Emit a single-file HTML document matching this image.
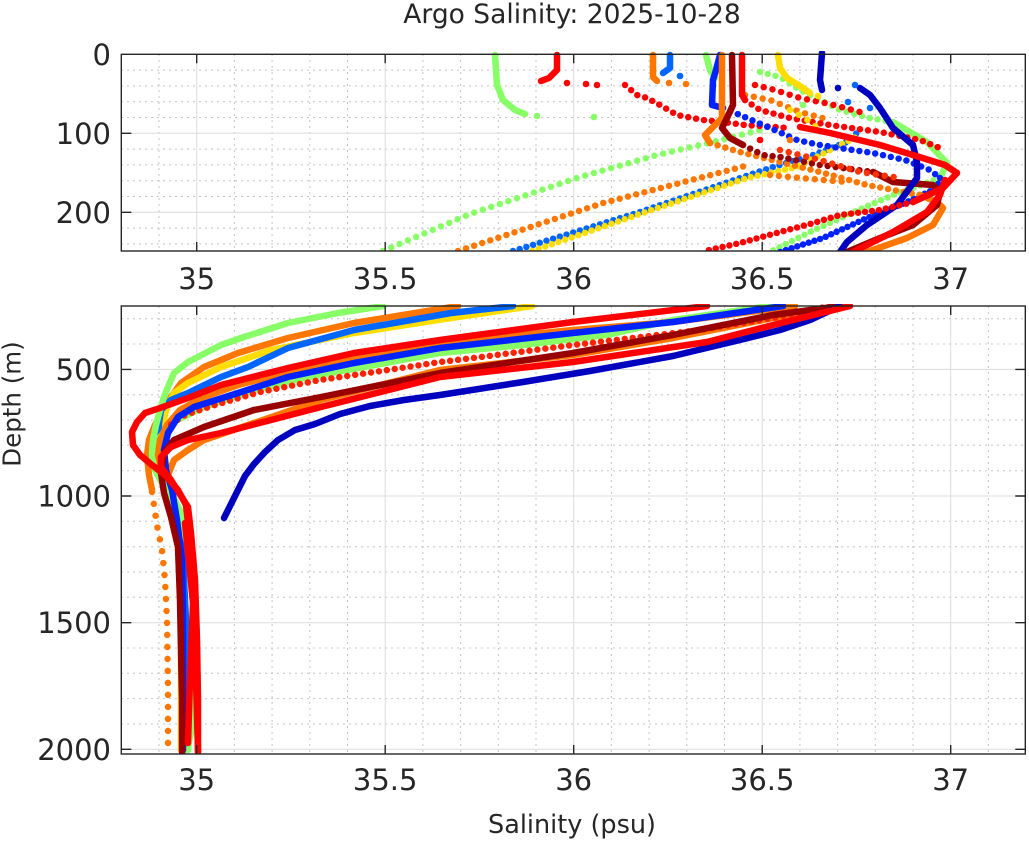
<!DOCTYPE html>
<html><head><meta charset="utf-8"><style>
html,body{margin:0;padding:0;background:#fff;}
svg{display:block;}
text{font-family:"DejaVu Sans","Liberation Sans",sans-serif;fill:#262626;}
</style></head><body>
<svg width="1029" height="841" viewBox="0 0 1029 841" xmlns="http://www.w3.org/2000/svg">
<defs>
<clipPath id="ct"><rect x="121" y="51" width="904" height="200"/></clipPath>
<clipPath id="cb"><rect x="121" y="304" width="904" height="450"/></clipPath>
</defs>
<rect width="1029" height="841" fill="#fff"/>

<!-- ===== TOP PANEL GRID ===== -->
<g stroke="#c4c4c4" stroke-width="1" stroke-dasharray="2 4">
<path d="M159,54V251M234.4,54V251M272.1,54V251M309.8,54V251M347.5,54V251M422.9,54V251M460.6,54V251M498.3,54V251M536,54V251M611.4,54V251M649.1,54V251M686.8,54V251M724.5,54V251M799.9,54V251M837.6,54V251M875.3,54V251M913,54V251M988.4,54V251"/>
<path d="M121,70.1H1025M121,85.9H1025M121,101.7H1025M121,117.5H1025M121,149.1H1025M121,164.9H1025M121,180.7H1025M121,196.5H1025M121,228.1H1025M121,243.9H1025"/>
</g>
<g stroke="#dcdcdc" stroke-width="1">
<path d="M196.7,54V251M385.2,54V251M573.7,54V251M762.2,54V251M950.7,54V251M121,133.3H1025M121,212.3H1025"/>
</g>

<!-- ===== BOTTOM PANEL GRID ===== -->
<g stroke="#c4c4c4" stroke-width="1" stroke-dasharray="2 4">
<path d="M159,306V754M234.4,306V754M272.1,306V754M309.8,306V754M347.5,306V754M422.9,306V754M460.6,306V754M498.3,306V754M536,306V754M611.4,306V754M649.1,306V754M686.8,306V754M724.5,306V754M799.9,306V754M837.6,306V754M875.3,306V754M913,306V754M988.4,306V754"/>
<path d="M121,318.7H1025M121,344H1025M121,394.7H1025M121,420H1025M121,445.3H1025M121,470.7H1025M121,521.3H1025M121,546.7H1025M121,572H1025M121,597.3H1025M121,648H1025M121,673.3H1025M121,698.6H1025M121,724H1025"/>
</g>
<g stroke="#dcdcdc" stroke-width="1">
<path d="M196.7,306V754M385.2,306V754M573.7,306V754M762.2,306V754M950.7,306V754M121,369.4H1025M121,496H1025M121,622.7H1025M121,749.3H1025"/>
</g>

<!-- ===== TOP PANEL DATA ===== -->
<g clip-path="url(#ct)" fill="none" stroke-linecap="round" stroke-linejoin="round" stroke-width="6.5">
<polyline stroke="#88ff66" stroke-dasharray="0 9" points="383,251 470,214 580,177 657,155 713,142 760,130"/>
<polyline stroke="#ff7700" stroke-dasharray="0 8.5" points="458,251 603,203 730,170 745,166"/>
<polyline stroke="#0066ff" stroke-dasharray="0 7" points="513,251 637,213 770,168 813,155 847,142 860,130"/>
<polyline stroke="#ffdd00" stroke-dasharray="0 7" points="532,251 637,215 747,178 797,167 840,145 860,135"/>

<polyline stroke="#88ff66" points="495,55 497,85 503,100 515,110 525,114"/>
<polyline stroke="#ff0000" points="557,55 557,70 549,78 541,81"/>
<polyline stroke="#ff0000" stroke-dasharray="0 8" points="625,85 637,95 647,98 660,105 677,115 703,120 723,122 745,125 790,128"/>
<polyline stroke="#ff7700" points="653,55 653,77 657,81"/>
<polyline stroke="#0066ff" points="670,55 670,68 663,73"/>

<polyline stroke="#88ff66" points="706,55 710,70 715,78"/>
<polyline stroke="#88ff66" stroke-dasharray="0 8" points="760,72 780,77 800,90 840,110 870,118 893,122"/>
<polyline stroke="#88ff66" points="893,122 927,142 947,163 940,178"/>
<polyline stroke="#88ff66" stroke-dasharray="0 7" points="940,178 893,195 847,215 810,232 770,252"/>

<polyline stroke="#0022ff" points="720,55 716,70 713,80 712,105 723,108"/>
<polyline stroke="#0022ff" stroke-dasharray="0 8" points="723,108 740,115 770,128 797,140 820,145 853,150 873,153 905,160 930,170 940,178"/>
<polyline stroke="#0022ff" stroke-dasharray="0 6" points="940,178 937,188 907,202 867,218 823,238 780,252"/>

<polyline stroke="#ff7700" points="722,55 722,118 713,127 705,135 710,143"/>
<polyline stroke="#ff7700" stroke-dasharray="0 8" points="710,143 740,152 780,162 820,172 867,185 920,195"/>
<polyline stroke="#ff7700" points="920,195 937,202 943,208 933,225 907,238 867,252"/>
<polyline stroke="#ff7700" stroke-dasharray="0 9" points="745,95 770,100 800,112 830,120"/>
<polyline stroke="#ff7700" stroke-dasharray="0 9" points="770,175 800,178 847,182"/>

<polyline stroke="#990000" points="732,55 733,105 727,118 722,128 730,138 743,145"/>
<polyline stroke="#990000" stroke-dasharray="0 8" points="743,145 763,155 780,157 820,165 873,172"/>
<polyline stroke="#990000" points="873,172 893,182 933,185 940,192 937,205 913,225 880,238 847,252"/>

<polyline stroke="#ff0000" points="742,55 742,95 745,100"/>
<polyline stroke="#ff0000" stroke-dasharray="0 8" points="745,100 760,110 790,118 830,125 880,132 920,140 945,150"/>
<polyline stroke="#ff0000" stroke-dasharray="0 9" points="755,85 775,90 800,98 830,104 860,112"/>

<polyline stroke="#ffdd00" points="778,55 780,68 787,78 803,88 810,93"/>
<polyline stroke="#ffdd00" stroke-dasharray="0 10" points="790,110 805,118 820,130"/>

<polyline stroke="#0000bf" points="822,53 820,80 822,90"/>
<polyline stroke="#0000bf" points="860,88 870,95 880,108 893,128 913,145 917,162 917,178 897,205 867,225 847,242 840,252"/>

<polyline stroke="#ff0000" points="800,127 830,133 880,145 913,155 945,165 957,173 943,188 913,202"/>
<polyline stroke="#ff0000" stroke-dasharray="0 7" points="913,202 880,210 840,215 810,224 780,232 740,243 705,251"/>
<polyline stroke="#ff0000" points="853,252 893,232 927,212 940,195 945,180"/>
<polyline stroke="#ff3300" stroke-dasharray="0 9" points="780,150 820,160 860,172 900,178"/>
</g>
<g clip-path="url(#ct)">
<circle cx="537" cy="116" r="3.3" fill="#88ff66"/>
<circle cx="594" cy="117" r="3.3" fill="#88ff66"/>
<circle cx="567" cy="83" r="3.3" fill="#ff0000"/>
<circle cx="586" cy="84" r="3.3" fill="#ff0000"/>
<circle cx="597" cy="85" r="3.3" fill="#ff0000"/>
<circle cx="669" cy="83" r="3.3" fill="#ff7700"/>
<circle cx="686" cy="84" r="3.3" fill="#ff7700"/>
<circle cx="680" cy="76" r="3.3" fill="#0066ff"/>
<circle cx="838" cy="88" r="3.3" fill="#0000bf"/>
<circle cx="855" cy="85" r="3.3" fill="#0066ff"/>
<circle cx="848" cy="102" r="3.3" fill="#0066ff"/>
<circle cx="870" cy="108" r="3.3" fill="#0066ff"/>
<circle cx="803" cy="105" r="3.3" fill="#88ff66"/>
<circle cx="818" cy="96" r="3.3" fill="#ffdd00"/>
<circle cx="790" cy="140" r="3.3" fill="#ff7700"/>
<circle cx="760" cy="140" r="3.3" fill="#ff0000"/>
</g>

<!-- ===== BOTTOM PANEL DATA ===== -->
<g clip-path="url(#cb)" fill="none" stroke-linecap="round" stroke-linejoin="round" stroke-width="6.5">
<polyline stroke="#ff7700" points="458,306 354,323 288,338 238,353 204,367 181,383 171,397 163,410 155,425 149,440 147,455 149,475 152,490"/>
<polyline stroke="#ff7700" stroke-dasharray="0 12" points="152,492 157,525 162,550 165,580 167,620 168,690 168,752"/>
<polyline stroke="#ffdd00" points="532,306 451,318 354,333 271,350 221,367 188,383 174,393 166,410 162,430 165,460 172,490 177,520 180,560 181,620 181,750"/>
<polyline stroke="#0066ff" points="513,306 451,313 354,330 288,348 248,367 221,377 188,393 171,400 161,410 159,423 158,440 161,450 166,470 172,490 178,517 183,560 186,620 186,700 185,750"/>
<polyline stroke="#88ff66" points="383,306 338,313 288,323 244,337 221,345 188,362 174,373 168,387 164,397 160,410 156,425 153,440 152,455 155,470 163,485 172,500 180,520 188,545 192,580 195,620 196,680 194,720 187,750"/>
<polyline stroke="#88ff66" points="770,306 673,320 607,335 523,345 440,353 304,378 254,390 204,407 171,423 158,440 154,453 158,467 170,490 182,515 190,540 195,580 196,640 193,700 188,750"/>
<polyline stroke="#ff7700" points="795,306 673,322 573,330 440,343 354,358 288,372 238,385 204,397 180,410 167,425 160,440 158,455 162,470"/>
<polyline stroke="#ff7700" points="845,306 773,318 673,338 573,355 440,370 321,400 254,423 204,440 188,450 174,460 168,475"/>
<polyline stroke="#ff2200" stroke-dasharray="0 8" points="830,306 773,318 700,330 573,345 473,358 440,362 388,370 320,380 260,392 215,405 185,415 170,425"/>
<polyline stroke="#0022ff" points="783,306 673,322 573,333 440,348 354,363 288,377 238,393 194,407 178,417 168,433 164,450 166,470 172,490 177,520 182,560 183,620 183,750"/>
<polyline stroke="#990000" points="840,306 773,315 673,335 573,353 440,373 321,397 254,410 204,427 174,440 164,453 161,473 164,493 171,517 178,547 180,600 181,650 182,700 182,752"/>
<polyline stroke="#0000bf" points="840,306 810,320 780,330 740,340 673,356 590,371 523,382 440,395 404,400 370,406 340,414 315,424 295,430 278,440 265,452 254,464 245,476 238,490 232,502 227,512 224,518"/>
<polyline stroke="#ff0000" points="707,306 573,322 440,340 354,353 288,368 221,385 188,398 160,408 145,413 137,422 132,432 133,445 140,455 152,465 165,475 178,490 186,505 190,540 193,600 196,680 198,752"/>
<polyline stroke="#ff0000" points="850,306 773,325 707,342 573,362 440,377 321,407 271,420 221,433 188,440 171,447 161,457 161,467 171,480 188,507 191,533 195,580 197,640 198,700 198,752"/>
<polyline stroke="#ff0000" points="185,523 193,603 190,680 188,743"/>
</g>

<!-- ===== AXES BOXES & TICKS ===== -->
<g fill="none" stroke="#262626" stroke-width="1.4">
<rect x="121.3" y="54.3" width="904" height="196.7"/>
<rect x="121.3" y="306" width="904" height="448"/>
<path d="M196.7,54.3v9M385.2,54.3v9M573.7,54.3v9M762.2,54.3v9M950.7,54.3v9M196.7,251v-9M385.2,251v-9M573.7,251v-9M762.2,251v-9M950.7,251v-9M121.3,133.3h10M121.3,212.3h10M1025.3,133.3h-10M1025.3,212.3h-10"/>
<path d="M196.7,306v9M385.2,306v9M573.7,306v9M762.2,306v9M950.7,306v9M196.7,754v-9M385.2,754v-9M573.7,754v-9M762.2,754v-9M950.7,754v-9M121.3,369.4h10M121.3,496h10M121.3,622.7h10M121.3,749.3h10M1025.3,369.4h-10M1025.3,496h-10M1025.3,622.7h-10M1025.3,749.3h-10"/>
</g>

<!-- ===== TEXT ===== -->
<text x="572" y="23" font-size="26.5" text-anchor="middle">Argo Salinity: 2025-10-28</text>

<g font-size="29" text-anchor="end">
<text x="111" y="65">0</text>
<text x="111" y="144">100</text>
<text x="111" y="223">200</text>
<text x="111" y="380">500</text>
<text x="111" y="506.5">1000</text>
<text x="111" y="633">1500</text>
<text x="111" y="760">2000</text>
</g>
<g font-size="29" text-anchor="middle">
<text x="196.7" y="289">35</text>
<text x="385.2" y="289">35.5</text>
<text x="573.7" y="289">36</text>
<text x="762.2" y="289">36.5</text>
<text x="950.7" y="289">37</text>
<text x="196.7" y="790">35</text>
<text x="385.2" y="790">35.5</text>
<text x="573.7" y="790">36</text>
<text x="762.2" y="790">36.5</text>
<text x="950.7" y="790">37</text>
</g>

<text x="572" y="833" font-size="25.5" text-anchor="middle">Salinity (psu)</text>
<text transform="translate(20.5,404) rotate(-90)" font-size="24.5" text-anchor="middle">Depth (m)</text>
</svg>
</body></html>
